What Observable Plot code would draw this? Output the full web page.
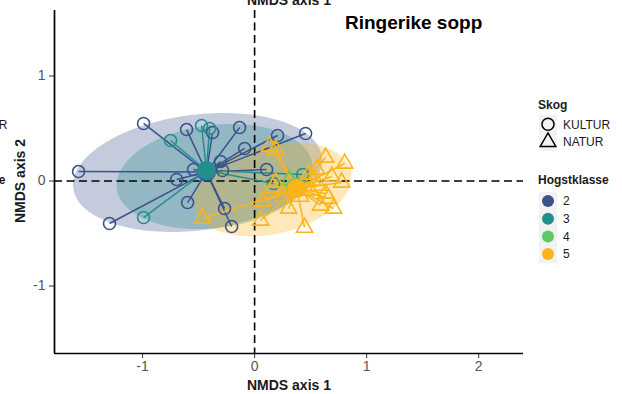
<!DOCTYPE html>
<html><head><meta charset="utf-8">
<script src="https://cdn.jsdelivr.net/npm/d3@7"></script>
<script src="https://cdn.jsdelivr.net/npm/@observablehq/plot@0.6"></script>
<style>
body{margin:0;background:#fff;}
#wrap{position:relative;width:622px;height:394px;overflow:hidden;background:#fff;}
</style></head><body><div id="wrap"></div>
<script>
// ---- data ----
const klasser = ["2", "3", "4", "5"];
const klasseColors = ["#3b528b", "#21908c", "#5ec962", "#fbb41a"];
const skogTyper = ["KULTUR", "NATUR"];
const xTicks = [-1, 0, 1, 2];
const yTicks = [-1, 0, 1];

// group order: klasse, skog
const groupKlasse = ["2", "3", "4", "5"];
const groupSkog = ["KULTUR", "KULTUR", "NATUR", "NATUR"];

const k2X = [-1.571, -0.991, -1.295, -0.696, -0.598, -0.607, -0.375, -0.134, -0.089, -0.304, -0.286, -0.545, -0.268, -0.205, 0.455, 0.205, 0.107];
const k2Y = [0.090, 0.548, -0.405, 0.014, -0.205, 0.490, 0.462, 0.510, 0.310, 0.186, 0.100, 0.110, -0.262, -0.433, 0.452, 0.433, 0.110];
const k3X = [-0.750, -0.473, -0.402, -0.991, 0.170, 0.429];
const k3Y = [0.386, 0.529, 0.500, -0.348, -0.024, 0.062];
const k4X = [0.31];
const k4Y = [0.01];
const k5X = [-0.464, 0.134, 0.188, 0.634, 0.804, 0.554, 0.482, 0.688, 0.777, 0.188, 0.161, 0.634, 0.661, 0.705, 0.446, 0.304, 0.071, 0.054, 0.571, 0.500, 0.589, 0.411, 0.518, 0.259];
const k5Y = [-0.357, 0.329, 0.300, 0.224, 0.167, 0.110, 0.062, 0.043, -0.014, -0.014, -0.062, -0.119, -0.167, -0.262, -0.443, -0.262, -0.195, -0.376, -0.043, -0.090, -0.233, -0.148, 0.005, -0.148];

// group centroids
const centKlasse = ["2", "3", "4", "5"];
const centX = [-0.43, -0.43, 0.37, 0.375];
const centY = [0.085, 0.10, -0.06, -0.071];

// ellipses (center, semi-axes, rotation in degrees)
const ellKlasse = ["2", "3", "5"];
const ellCX = [-0.509, -0.357, 0.161];
const ellCY = [0.081, 0.043, -0.081];
const ellA = [1.12, 0.88, 0.72];
const ellB = [0.55, 0.49, 0.42];
const ellAngle = [8, 8, 15];

// ---- build tables ----
const groupXs = [k2X, k3X, k4X, k5X];
const groupYs = [k2Y, k3Y, k4Y, k5Y];
const pts = [];
groupKlasse.forEach((k, g) => {
  groupXs[g].forEach((x, i) => pts.push({x, y: groupYs[g][i], k, s: groupSkog[g]}));
});
const cents = centKlasse.map((k, i) => ({k, x: centX[i], y: centY[i]}));
const centBy = new Map(cents.map(d => [d.k, d]));
const links = pts.map(d => ({...d, cx: centBy.get(d.k).x, cy: centBy.get(d.k).y}));
const ell = [];
ellKlasse.forEach((k, i) => {
  const th = ellAngle[i] * Math.PI / 180;
  for (let j = 0; j <= 160; j++) {
    const t = 2 * Math.PI * j / 160;
    const ex = ellA[i] * Math.cos(t), ey = ellB[i] * Math.sin(t);
    ell.push({k, x: ellCX[i] + ex * Math.cos(th) - ey * Math.sin(th), y: ellCY[i] + ex * Math.sin(th) + ey * Math.cos(th)});
  }
});

const xDom = [-1.786, 2.40];
const yDom = [-1.643, 1.624];
const FONT = "'Liberation Sans', Arial, sans-serif";
const fmt = d => String(d);

const chart = Plot.plot({
  width: 622, height: 394,
  marginLeft: 54, marginRight: 99, marginTop: 10, marginBottom: 41,
  x: {domain: xDom, label: null},
  y: {domain: yDom, label: null},
  color: {domain: klasser, range: klasseColors},
  symbol: {domain: skogTyper, range: ["circle", "triangle"]},
  style: {fontFamily: FONT, background: "transparent", overflow: "visible"},
  marks: [
    Plot.line(ell, {x: "x", y: "y", z: "k", fill: "k", fillOpacity: 0.3, stroke: null}),
    Plot.ruleY([0], {stroke: "#000", strokeWidth: 1.6, strokeDasharray: "8,4.5"}),
    Plot.ruleX([0], {stroke: "#000", strokeWidth: 1.6, strokeDasharray: "8,4.5"}),
    Plot.link(links, {x1: "x", y1: "y", x2: "cx", y2: "cy", stroke: "k", strokeWidth: 1.5}),
    Plot.dot(pts, {x: "x", y: "y", stroke: "k", symbol: "s", r: 6, strokeWidth: 1.6, fill: "none"}),
    Plot.dot(cents, {x: "x", y: "y", fill: "k", r: 9.5}),
    Plot.axisX({ticks: xTicks, tickFormat: fmt, tickSize: 5, tickPadding: 3, fontSize: 14, stroke: "#333", fill: "#555", label: null}),
    Plot.axisY({ticks: yTicks, tickFormat: fmt, tickSize: 5, tickPadding: 4, fontSize: 14, stroke: "#333", fill: "#555", label: null}),
    Plot.ruleX([xDom[0]], {stroke: "#000", strokeWidth: 1.7}),
    Plot.ruleY([yDom[0]], {stroke: "#000", strokeWidth: 1.7})
  ]
});
document.getElementById("wrap").appendChild(chart);

// ---- titles, legend (text) ----
const svg = d3.select(chart);
const T = (x, y, txt, opt = {}) => svg.append("text").attr("x", x).attr("y", y).text(txt)
  .attr("font-family", FONT).attr("font-size", opt.size || 12).attr("font-weight", opt.bold ? "bold" : "normal")
  .attr("text-anchor", opt.anchor || "start").attr("fill", opt.fill || "#1a1a1a")
  .attr("transform", opt.rotate ? `rotate(-90,${x},${y})` : null);

T(289, 5, "NMDS axis 1", {size: 14, bold: true, anchor: "middle"});
T(289, 390, "NMDS axis 1", {size: 14, bold: true, anchor: "middle"});
T(25, 181, "NMDS axis 2", {size: 14, bold: true, anchor: "middle", rotate: true});
T(345, 29, "Ringerike sopp", {size: 19, bold: true, fill: "#000"});
T(7.5, 128.5, "R", {size: 12, anchor: "end"});
T(5.5, 184, "e", {size: 12, bold: true, anchor: "end"});

// legend: Skog
T(538, 109, "Skog", {size: 12, bold: true});
svg.append("rect").attr("x", 539).attr("y", 115).attr("width", 18).attr("height", 36).attr("fill", "#f2f2f2");
const sym = d3.symbol();
skogTyper.forEach((s, i) => {
  const cy = 124.3 + i * 17.6;
  svg.append("path").attr("transform", `translate(548,${cy})`)
    .attr("d", sym.type(i === 0 ? d3.symbolCircle : d3.symbolTriangle).size(i === 0 ? 113 : 105)())
    .attr("fill", "none").attr("stroke", "#000").attr("stroke-width", 1.5);
  T(563, cy + 4.3, s, {size: 12});
});
// legend: Hogstklasse
T(538, 184, "Hogstklasse", {size: 12, bold: true});
svg.append("rect").attr("x", 539).attr("y", 192).attr("width", 18).attr("height", 71).attr("fill", "#f2f2f2");
klasser.forEach((k, i) => {
  const cy = 201 + i * 17.7;
  svg.append("circle").attr("cx", 548).attr("cy", cy).attr("r", 6).attr("fill", klasseColors[i]);
  T(563, cy + 4.3, k, {size: 12});
});
</script></body></html>
